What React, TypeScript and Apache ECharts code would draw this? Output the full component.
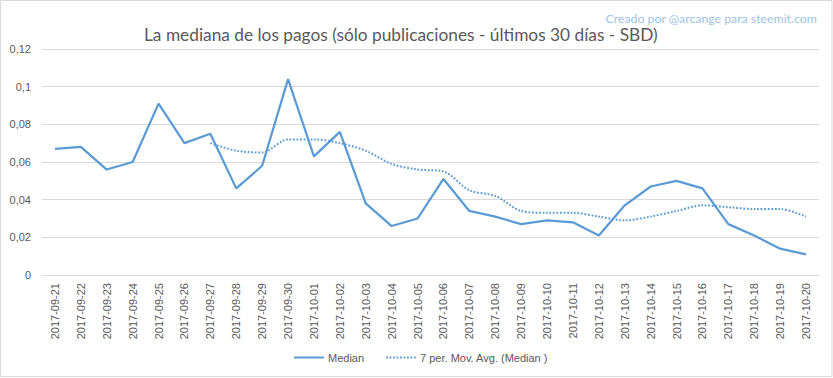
import React, { useEffect, useRef } from "react";
import * as echarts from "echarts";

const categories = [
  "2017-09-21", "2017-09-22", "2017-09-23", "2017-09-24", "2017-09-25", "2017-09-26",
  "2017-09-27", "2017-09-28", "2017-09-29", "2017-09-30", "2017-10-01", "2017-10-02",
  "2017-10-03", "2017-10-04", "2017-10-05", "2017-10-06", "2017-10-07", "2017-10-08",
  "2017-10-09", "2017-10-10", "2017-10-11", "2017-10-12", "2017-10-13", "2017-10-14",
  "2017-10-15", "2017-10-16", "2017-10-17", "2017-10-18", "2017-10-19", "2017-10-20",
];

const median = [
  0.067, 0.068, 0.056, 0.060, 0.091, 0.070,
  0.075, 0.046, 0.058, 0.104, 0.063, 0.076,
  0.038, 0.026, 0.030, 0.051, 0.034, 0.031,
  0.027, 0.029, 0.028, 0.021, 0.037, 0.047,
  0.050, 0.046, 0.027, 0.021, 0.014, 0.011,
];

const movAvg: (number | null)[] = [
  null, null, null, null, null, null,
  0.070, 0.066, 0.065, 0.072, 0.072, 0.070,
  0.066, 0.059, 0.056, 0.055, 0.045, 0.042,
  0.034, 0.033, 0.033, 0.031, 0.029, 0.031,
  0.034, 0.037, 0.036, 0.035, 0.035, 0.031,
];

const yMin = 0;
const yMax = 0.12;
const yStep = 0.02;

const titleText = "La mediana de los pagos (sólo publicaciones - últimos 30 días - SBD)";
const creditText = "Creado por @arcange para steemit.com";
const seriesNames = ["Median", "7 per. Mov. Avg. (Median )"];

export default function App() {
  const ref = useRef<HTMLDivElement>(null);
  useEffect(() => {
    document.body.style.margin = "0";
    if (!ref.current) return;
    const chart = echarts.init(ref.current, null, { renderer: "svg" });
    const blue = "#5B9BD5";
    chart.setOption({
      animation: false,
      backgroundColor: "#ffffff",
      title: [
        {
          text: titleText,
          left: 139,
          top: 21,
          textStyle: { fontFamily: "Lato", fontSize: 17.3, fontWeight: "normal", color: "#595959" },
        },
        {
          text: creditText,
          right: 11,
          top: 7,
          textStyle: { fontFamily: "Lato", fontSize: 12.3, fontWeight: "normal", color: "#9DC3E6" },
        },
      ],
      graphic: [
        {
          type: "rect",
          shape: { x: 0.5, y: 0.5, width: 831.5, height: 376 },
          style: { fill: "none", stroke: "#D9D9D9", lineWidth: 1 },
          silent: true,
        },
      ],
      grid: { left: 42, right: 14, top: 49, bottom: 103, containLabel: false },
      legend: {
        left: 288,
        top: 347,
        itemWidth: 30,
        itemHeight: 10,
        itemGap: 21,
        itemStyle: { opacity: 0 },
        textStyle: { fontFamily: "Liberation Sans", fontSize: 11, color: "#595959", padding: [0, 0, 0, -1] },
        data: seriesNames,
      },
      xAxis: {
        type: "category",
        data: categories,
        boundaryGap: true,
        axisLine: { lineStyle: { color: "#D9D9D9", width: 1 } },
        axisTick: { show: false },
        axisLabel: {
          rotate: 90,
          interval: 0,
          margin: 8,
          fontFamily: "Liberation Sans",
          fontSize: 11,
          color: "#595959",
        },
      },
      yAxis: {
        type: "value",
        min: yMin,
        max: yMax,
        interval: yStep,
        axisLine: { show: false },
        axisTick: { show: false },
        splitLine: { lineStyle: { color: "#D9D9D9", width: 1 } },
        axisLabel: {
          margin: 11,
          fontFamily: "Liberation Sans",
          fontSize: 11,
          color: "#595959",
          formatter: (v: number) => parseFloat(v.toFixed(2)).toString().replace(".", ","),
        },
      },
      series: [
        {
          name: seriesNames[0],
          type: "line",
          data: median,
          symbol: "none",
          lineStyle: { color: blue, width: 2.25 },
          itemStyle: { color: blue },
        },
        {
          name: seriesNames[1],
          type: "line",
          data: movAvg,
          symbol: "none",
          smooth: 0.3,
          lineStyle: { color: blue, width: 2, type: [1.75, 1.75] },
          itemStyle: { color: blue },
        },
      ],
    });
    return () => chart.dispose();
  }, []);
  return <div ref={ref} style={{ width: 833, height: 378 }} />;
}
